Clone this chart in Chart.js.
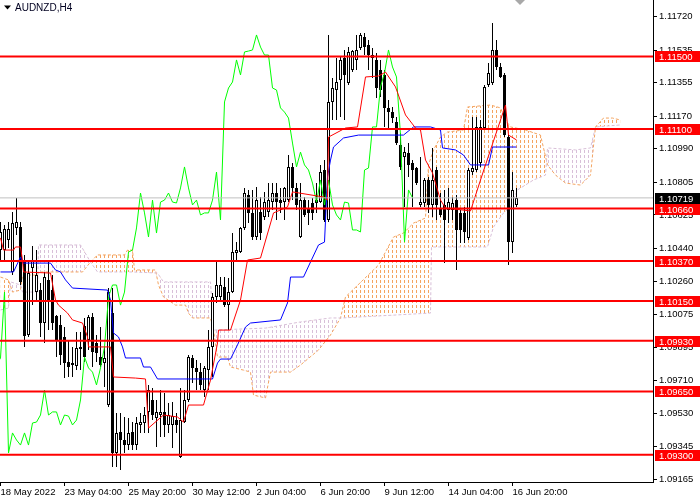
<!DOCTYPE html>
<html><head><meta charset="utf-8">
<script src="https://cdn.jsdelivr.net/npm/chart.js@4.4.1/dist/chart.umd.min.js"></script>
<style>html,body{margin:0;padding:0;background:#fff}canvas{display:block}</style>
</head><body>
<canvas id="c" width="700" height="500"></canvas>
<script>
const symbolTitle = 'AUDNZD,H4';
const xLabels = ['18 May 2022','23 May 04:00','25 May 20:00','30 May 12:00','2 Jun 04:00','6 Jun 20:00','9 Jun 12:00','14 Jun 04:00','16 Jun 20:00'];
const xLabelBars = [0,16,32,48,64,80,96,112,128];
const yTicks = [1.09165,1.09345,1.09530,1.09710,1.09895,1.10075,1.10260,1.10440,1.10625,1.10805,1.10990,1.11170,1.11355,1.11535,1.11720];
const levels = [1.11500,1.11100,1.10660,1.10370,1.10150,1.09930,1.09650,1.09300];
const lastPrice = 1.10719;
const chikouShift = 26;

const open = [1.10431,1.10431,1.10486,1.10310,1.10553,1.10558,1.10365,1.09962,1.10332,1.10199,
1.10210,1.10028,1.10266,1.10210,1.10067,1.10017,1.09951,1.09813,1.09807,1.09791,
1.09884,1.10012,1.09934,1.10061,1.09918,1.09840,1.09807,1.09575,1.10083,1.09310,
1.09426,1.09382,1.09354,1.09426,1.09354,1.09465,1.09476,1.09537,1.09603,1.09503,
1.09520,1.09537,1.09465,1.09465,1.09492,1.09288,1.09481,1.09603,1.09835,1.09780,
1.09757,1.09658,1.09768,1.09896,1.10172,1.10172,1.10227,1.10127,1.10199,1.10415,
1.10420,1.10553,1.10735,1.10636,1.10503,1.10641,1.10614,1.10641,1.10696,1.10746,
1.10707,1.10696,1.10707,1.10890,1.10774,1.10503,1.10707,1.10663,1.10691,1.10691,
1.10696,1.10873,1.10597,1.11249,1.11315,1.11370,1.11492,1.11354,1.11425,1.11481,
1.11547,1.11608,1.11563,1.11492,1.11481,1.11425,1.11398,1.11216,1.11193,1.11138,
1.11011,1.10945,1.10967,1.10912,1.10884,1.10680,1.10691,1.10818,1.10680,1.10873,
1.10663,1.10680,1.10652,1.10652,1.10707,1.10636,1.10636,1.10498,1.10862,1.10873,
1.10912,1.11105,1.11343,1.11354,1.11536,1.11442,1.11398,1.11055,1.10475,1.10680];
const high = [1.10586,1.10569,1.10586,1.10641,1.10718,1.10586,1.10404,1.10365,1.10453,1.10431,
1.10249,1.10310,1.10365,1.10293,1.10072,1.10072,1.10006,1.09934,1.09896,1.09978,
1.09978,1.10056,1.10072,1.10083,1.09962,1.10006,1.09896,1.10221,1.10221,1.09531,
1.09531,1.09509,1.09503,1.09481,1.09509,1.09531,1.09564,1.09686,1.09669,1.09603,
1.09658,1.09641,1.09586,1.09592,1.09531,1.09669,1.09658,1.09851,1.09851,1.09824,
1.09807,1.09791,1.09989,1.10194,1.10365,1.10282,1.10282,1.10277,1.10525,1.10475,
1.10558,1.10774,1.10763,1.10763,1.10779,1.10724,1.10752,1.10801,1.10801,1.10801,
1.10774,1.10779,1.10956,1.10912,1.10801,1.10801,1.10724,1.10707,1.10718,1.10801,
1.10901,1.10928,1.11619,1.11381,1.11492,1.11497,1.11536,1.11552,1.11536,1.11619,
1.11630,1.11630,1.11591,1.11547,1.11519,1.11481,1.11425,1.11260,1.11221,1.11166,
1.11077,1.11000,1.11022,1.10928,1.10890,1.10945,1.10829,1.10834,1.10995,1.10890,
1.10746,1.10763,1.10774,1.10724,1.10735,1.10652,1.10669,1.10884,1.11166,1.11166,
1.11149,1.11343,1.11464,1.11685,1.11591,1.11464,1.11409,1.11066,1.10862,1.10774];
const low = [1.10365,1.10365,1.10442,1.10293,1.10514,1.10238,1.09896,1.09951,1.10127,1.10155,
1.09951,1.09918,1.09989,1.09989,1.09840,1.09796,1.09724,1.09730,1.09730,1.09768,
1.09768,1.09813,1.09879,1.09785,1.09813,1.09785,1.09675,1.09564,1.09233,1.09233,
1.09216,1.09310,1.09327,1.09327,1.09327,1.09421,1.09421,1.09421,1.09492,1.09343,
1.09398,1.09398,1.09421,1.09338,1.09421,1.09283,1.09476,1.09592,1.09697,1.09658,
1.09658,1.09619,1.09658,1.09730,1.10139,1.10144,1.10116,1.09989,1.10194,1.10376,
1.10415,1.10542,1.10580,1.10486,1.10486,1.10486,1.10597,1.10614,1.10652,1.10597,
1.10636,1.10597,1.10696,1.10707,1.10652,1.10498,1.10614,1.10569,1.10597,1.10636,
1.10691,1.10586,1.10586,1.11149,1.11149,1.11166,1.11149,1.11343,1.11414,1.11425,
1.11536,1.11508,1.11425,1.11381,1.11271,1.11276,1.11111,1.11094,1.11133,1.11011,
1.10873,1.10669,1.10834,1.10669,1.10790,1.10669,1.10669,1.10636,1.10614,1.10597,
1.10614,1.10359,1.10580,1.10597,1.10321,1.10470,1.10470,1.10486,1.10845,1.10862,
1.10890,1.11094,1.11332,1.11343,1.11425,1.11381,1.11055,1.10348,1.10415,1.10669];
const close = [1.10531,1.10547,1.10547,1.10580,1.10586,1.10255,1.09956,1.10304,1.10376,1.10293,
1.10028,1.10282,1.10155,1.10028,1.09934,1.09851,1.09807,1.09785,1.09796,1.09890,
1.09896,1.09840,1.10061,1.09868,1.09862,1.09796,1.09835,1.10199,1.09310,1.09421,
1.09382,1.09354,1.09421,1.09354,1.09476,1.09481,1.09520,1.09658,1.09520,1.09537,
1.09537,1.09465,1.09520,1.09514,1.09465,1.09492,1.09603,1.09840,1.09780,1.09757,
1.09686,1.09780,1.09896,1.10172,1.10238,1.10238,1.10127,1.10199,1.10420,1.10431,
1.10553,1.10746,1.10636,1.10503,1.10707,1.10525,1.10696,1.10707,1.10746,1.10696,
1.10691,1.10774,1.10890,1.10774,1.10680,1.10707,1.10625,1.10636,1.10636,1.10707,
1.10862,1.10597,1.11249,1.11326,1.11359,1.11481,1.11398,1.11525,1.11530,1.11536,
1.11619,1.11552,1.11508,1.11508,1.11326,1.11315,1.11216,1.11193,1.11160,1.11022,
1.10890,1.10972,1.10901,1.10873,1.10801,1.10696,1.10818,1.10680,1.10818,1.10680,
1.10625,1.10597,1.10696,1.10691,1.10542,1.10542,1.10531,1.10873,1.10884,1.11111,
1.11111,1.11332,1.11409,1.11536,1.11442,1.11387,1.11066,1.10475,1.10763,1.10719];

// Ichimoku lines as [bar, price] vertices
const tenkanSen = [[0,1.10498],[0.75,1.10431],[3.25,1.10431],[3.75,1.10448],[5,1.10448],[5.5,1.10376],[5.75,1.10310],[12.5,1.10304],[13.75,1.10155],[14.5,1.10127],[16.75,1.10083],[18,1.10045],[20.5,1.10028],[21.75,1.09951],[22,1.09896],[27.5,1.09896],[28.25,1.09730],[33.75,1.09724],[36.25,1.09719],[37,1.09448],[40.75,1.09520],[44.25,1.09509],[45.75,1.09481],[47,1.09575],[50.75,1.09575],[52.5,1.09713],[54.25,1.09918],[54.5,1.09989],[57.5,1.09989],[60,1.10155],[61.75,1.10376],[65,1.10387],[68.25,1.10636],[71.75,1.10669],[73,1.10752],[80.75,1.10724],[81.75,1.10707],[82,1.11055],[86.25,1.11105],[89.25,1.11111],[91.25,1.11387],[94.5,1.11392],[96.25,1.11414],[98.75,1.11332],[101.25,1.11177],[103.75,1.11105],[105,1.11094],[106.25,1.10928],[108,1.10857],[110,1.10707],[111.25,1.10663],[117.5,1.10647],[120,1.10818],[122.5,1.10984],[125,1.11149],[126.25,1.11232],[127,1.11066],[129,1.11039]];
const kijunSen = [[0,1.10310],[3.25,1.10310],[5,1.10393],[5.5,1.10359],[12.5,1.10359],[13.75,1.10321],[15,1.10310],[16.25,1.10266],[18,1.10221],[26.75,1.10210],[27.5,1.10155],[28.25,1.09973],[29.5,1.09951],[30.5,1.09896],[31.25,1.09835],[35,1.09835],[35.75,1.09785],[37.5,1.09785],[39.25,1.09719],[53,1.09719],[54.25,1.09807],[55,1.09829],[57.5,1.09829],[59.25,1.09907],[61.25,1.10006],[62.5,1.10028],[70,1.10045],[71.75,1.10139],[72.5,1.10282],[75.75,1.10282],[77.5,1.10365],[79.5,1.10459],[81,1.10475],[81.75,1.10834],[82.5,1.10928],[83.25,1.11000],[85.75,1.11050],[89.5,1.11066],[100.75,1.11066],[103.25,1.11111],[107.5,1.11111],[110,1.11094],[110.5,1.10995],[113.75,1.10984],[115.75,1.10956],[117.5,1.10901],[122,1.10901],[123,1.11000],[129,1.11000]];
const senkouSpanA = [[0,1.10282],[2,1.10266],[3,1.10199],[5,1.10210],[5.5,1.10293],[9.25,1.10293],[9.5,1.10310],[20.5,1.10310],[22.5,1.10365],[24.25,1.10404],[31,1.10404],[31.75,1.10431],[33,1.10431],[33.5,1.10321],[38.75,1.10321],[39.5,1.10238],[40.75,1.10172],[43.75,1.10127],[46.25,1.10127],[47,1.10083],[48,1.10056],[52.5,1.10056],[53.25,1.09989],[54.25,1.09840],[56.75,1.09840],[57.5,1.09785],[60.75,1.09768],[62.5,1.09757],[63.25,1.09630],[66.25,1.09614],[67.5,1.09757],[72.5,1.09757],[75,1.09796],[79.5,1.09879],[82.5,1.09962],[85,1.10056],[86.25,1.10172],[94.5,1.10348],[98.25,1.10503],[100.75,1.10525],[103.25,1.10580],[106.25,1.10608],[107,1.10901],[108.25,1.10984],[110,1.11055],[111.75,1.11083],[115.75,1.11094],[116.75,1.11221],[122.5,1.11232],[125,1.11216],[126.25,1.11149],[127.5,1.11111],[131.25,1.11094],[135,1.11066],[136.75,1.10901],[138.75,1.10845],[141.25,1.10801],[145,1.10790],[147.5,1.10845],[148.75,1.11111],[150.75,1.11160],[153,1.11160],[155,1.11149]];
const senkouSpanB = [[0,1.10100],[2,1.10111],[2.5,1.10255],[5,1.10238],[5.5,1.10199],[9.25,1.10199],[9.5,1.10459],[20,1.10459],[22.5,1.10365],[24.25,1.10310],[33,1.10310],[39.25,1.10304],[40.75,1.10255],[52.5,1.10255],[53.25,1.09989],[66.25,1.10000],[75,1.10034],[82.5,1.10056],[85.5,1.10056],[107.5,1.10083],[107.75,1.10448],[121.75,1.10448],[123.25,1.10558],[125.75,1.10636],[127.5,1.10669],[129.25,1.10763],[133.25,1.10818],[136.25,1.10845],[136.75,1.10995],[143.75,1.10984],[147.5,1.10995],[148.75,1.11111],[155,1.11122]];

function dashPattern(color){
  const pc = document.createElement('canvas'); pc.width = 4; pc.height = 5;
  const g = pc.getContext('2d'); g.fillStyle = color; g.fillRect(0,0,1,3);
  return document.getElementById('c').getContext('2d').createPattern(pc,'repeat');
}
const orangeFill = dashPattern('#F4A460');
const thistleFill = dashPattern('#D8BFD8');

const FONT = '"Liberation Sans", Arial, sans-serif';
const pts = a => a.map(p => ({x:p[0], y:p[1]}));
const lineDs = (data, color, order, extra) => Object.assign({type:'line', data, borderColor:color, borderWidth:1, pointRadius:0, tension:0, fill:false, order}, extra||{});

const datasets = [];
levels.forEach(p => datasets.push(lineDs([{x:-2,y:p},{x:170,y:p}], '#FF0000', 1, {borderWidth:2})));
datasets.push(lineDs([{x:-2,y:lastPrice},{x:170,y:lastPrice}], '#C0C0C0', 2));
datasets.push(lineDs(pts(tenkanSen), '#FF0000', 3));
datasets.push(lineDs(pts(kijunSen), '#0000FF', 4));
datasets.push(lineDs(close.map((c,i)=>({x:i-chikouShift, y:c})), '#00FF00', 5));
datasets.push({type:'bar', data: open.map((o,i)=>({x:i, y:[o, close[i]]})),
  backgroundColor: open.map((o,i)=> close[i] >= o ? '#FFFFFF' : '#000000'),
  borderColor:'#000000', borderWidth:1, borderSkipped:false, barThickness:3, grouped:false, inflateAmount:0, minBarLength:1, order:6});
datasets.push({type:'bar', data: low.map((l,i)=>({x:i, y:[l, high[i]]})),
  backgroundColor:'#000000', borderWidth:0, barThickness:1, grouped:false, inflateAmount:0, order:7});
const idxB = datasets.length;
datasets.push(lineDs(pts(senkouSpanB), '#D8BFD8', 8, {borderDash:[3,2]}));
datasets.push(lineDs(pts(senkouSpanA), '#F4A460', 9, {borderDash:[3,2], fill:{target: idxB, above: orangeFill, below: thistleFill}}));

const overlay = {
  id:'overlay',
  afterDraw(chart){
    const {ctx, scales:{y}} = chart;
    ctx.save();
    ctx.font = '9.5px ' + FONT;
    ctx.textBaseline = 'middle';
    ctx.textAlign = 'left';
    const box = (p, bg) => {
      const py = Math.round(y.getPixelForValue(p));
      ctx.fillStyle = bg; ctx.fillRect(655, py-5, 45, 11);
      ctx.fillStyle = '#FFFFFF'; ctx.fillText(p.toFixed(5), 659, py+1);
    };
    levels.forEach(p => box(p, '#FF0000'));
    box(lastPrice, '#000000');
    ctx.fillStyle = '#000';
    ctx.beginPath(); ctx.moveTo(4,5.5); ctx.lineTo(11,5.5); ctx.lineTo(7.5,9.5); ctx.closePath(); ctx.fill();
    ctx.font = '10px ' + FONT;
    ctx.fillStyle = '#000020';
    ctx.fillText(symbolTitle, 15, 8);
    ctx.fillStyle = '#A8A8A8';
    ctx.beginPath(); ctx.moveTo(515,0); ctx.lineTo(525,0); ctx.lineTo(520,5); ctx.closePath(); ctx.fill();
    ctx.restore();
  }
};

new Chart(document.getElementById('c'), {
  type:'line',
  data:{datasets},
  options:{
    responsive:false, animation:false, events:[],
    layout:{padding:0, autoPadding:false},
    plugins:{legend:{display:false}, tooltip:{enabled:false}, title:{display:false}},
    scales:{
      x:{type:'linear', position:'bottom', min:-0.125, max:163.125, offset:false,
        grid:{display:true, offset:false, drawOnChartArea:false, drawTicks:true, tickLength:4, color:'#000'},
        border:{display:true, color:'#000', width:1},
        ticks:{autoSkip:false, maxRotation:0, align:'start', padding:1, color:'#000', font:{family:FONT, size:9.5},
          callback:(v)=>{const k = xLabelBars.indexOf(v); return k>=0 ? xLabels[k] : '';}},
        afterBuildTicks:(s)=>{s.ticks = xLabelBars.map(v=>({value:v}));},
        afterFit:(s)=>{s.height = 18; s.paddingLeft = 0; s.paddingRight = 0;}
      },
      y:{type:'linear', position:'right', min:1.09150, max:1.11812, beginAtZero:false, offset:false,
        grid:{display:true, offset:false, drawOnChartArea:false, drawTicks:true, tickLength:4, color:'#000'},
        border:{display:true, color:'#000', width:1},
        ticks:{autoSkip:false, padding:2, color:'#000', font:{family:FONT, size:9.5},
          callback:(v)=>Number(v).toFixed(5)},
        afterBuildTicks:(s)=>{s.ticks = yTicks.map(v=>({value:v}));},
        afterFit:(s)=>{s.width = 47; s.paddingTop = 0; s.paddingBottom = 0;}
      }
    }
  },
  plugins:[overlay]
});
</script>
</body></html>
